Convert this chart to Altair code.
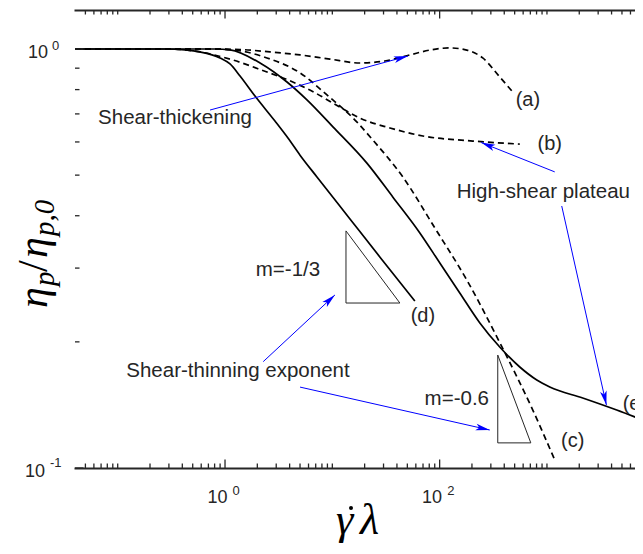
import math
import altair as alt
import pandas as pd

W, H = 568, 458
X_DOMAIN = [0.04, 7852]
Y_DOMAIN = [0.1, 1.239]
INK = "#262626"
BLUE = "#0000ff"

# ---------------- curves ----------------
a_x = [0.04, 0.2, 0.6, 1.38, 2.62, 5.0, 9.5, 18.1, 30.9, 52.8, 81, 124, 179, 252, 364, 481]
a_y = [1.0, 1.0, 1.0, 0.997, 0.984, 0.968, 0.946, 0.926, 0.936, 0.968, 0.994, 1.006, 0.994, 0.952, 0.857, 0.789]
b_x = [0.04, 0.308, 0.585, 1.187, 2.46, 3.47, 6.18, 13.1, 18.1, 34.4, 69.8, 204, 558]
b_y = [1.0, 1.0, 0.984, 0.941, 0.881, 0.853, 0.798, 0.715, 0.684, 0.648, 0.620, 0.603, 0.593]
c_x = [0.04, 0.725, 1.187, 2.46, 5.0, 8.91, 16.9, 23.9, 45.4, 90.2, 179, 364, 738, 1182]
c_y = [1.0, 1.0, 0.995, 0.952, 0.877, 0.777, 0.670, 0.606, 0.495, 0.374, 0.281, 0.199, 0.1375, 0.1045]
d_x = [0.04, 0.276, 0.424, 0.585, 0.898, 1.113, 1.38, 1.903, 2.92, 3.86, 5.0, 7.19, 14.6, 27.7, 58.8]
d_y = [1.0, 1.0, 0.995, 0.984, 0.952, 0.921, 0.862, 0.772, 0.673, 0.613, 0.558, 0.495, 0.393, 0.319, 0.2503]
e_x = [0.04, 0.807, 1.113, 2.12, 3.78, 5.80, 10.13, 21.0, 36.7, 65.4, 100.4, 154, 237, 363, 558,
       804, 1062, 2154, 4467, 7800, 10000]
e_y = [1.0, 1.0, 0.995, 0.926, 0.834, 0.756, 0.652, 0.534, 0.443, 0.364, 0.3086, 0.2617, 0.2219,
       0.1944, 0.1742, 0.1622, 0.1561, 0.1469, 0.1375, 0.1302, 0.127]

# slope triangles
tri1_x = [13.4, 13.4, 42.6, 13.4]
tri1_y = [0.368, 0.2476, 0.2476, 0.368]
tri2_x = [348, 348, 707, 348]
tri2_y = [0.186, 0.1148, 0.1148, 0.186]

# curve labels
lab_text = ["(a)", "(b)", "(c)", "(d)"]
lab_x = [664, 1062, 1738, 69.8]
lab_y = [0.731, 0.574, 0.1122, 0.2231]
e_lab_text = ["(e)"]
e_lab_x = [5079]
e_lab_y = [0.1375]

# annotations
note_text = ["Shear-thickening", "High-shear plateau", "Shear-thinning exponent", "m=-1/3", "m=-0.6"]
note_x = [0.342, 925, 1.32, 3.86, 144.5]
note_y = [0.662, 0.441, 0.165, 0.287, 0.1413]

# arrows: start -> tip
arr_x0 = [0.725, 1182, 1373, 2.27, 5.0]
arr_y0 = [0.715, 0.509, 0.422, 0.1794, 0.156]
arr_x1 = [50.6, 244, 3581, 10.57, 293]
arr_y1 = [0.962, 0.598, 0.1413, 0.2588, 0.1232]

# ticks and tick labels
x_major = [1, 100]
x_minor = [0.05, 0.06, 0.07, 0.08, 0.09,
           0.1, 0.2, 0.3, 0.4, 0.5, 0.6, 0.7, 0.8, 0.9,
           2, 3, 4, 5, 6, 7, 8, 9,
           10, 20, 30, 40, 50, 60, 70, 80, 90,
           200, 300, 400, 500, 600, 700, 800, 900,
           1000, 2000, 3000, 4000, 5000, 6000, 7000]
y_major = [0.1, 1]
y_minor = [0.2, 0.3, 0.4, 0.5, 0.6, 0.7, 0.8, 0.9]
xlab_vals = [1, 100]
xlab_exp = ["0", "2"]

# ---------------- helpers ----------------
LX0, LX1 = math.log10(X_DOMAIN[0]), math.log10(X_DOMAIN[1])
LY0, LY1 = math.log10(Y_DOMAIN[0]), math.log10(Y_DOMAIN[1])


def px(v):
    return W * (math.log10(v) - LX0) / (LX1 - LX0)


def py(v):
    return H * (LY1 - math.log10(v)) / (LY1 - LY0)


def X(field, axis=None):
    return alt.X(f"{field}:Q", scale=alt.Scale(type="log", domain=X_DOMAIN, nice=False), axis=axis)


def Y(field, axis=None):
    return alt.Y(f"{field}:Q", scale=alt.Scale(type="log", domain=Y_DOMAIN, nice=False), axis=axis)


def curve_df(name, xs, ys):
    return pd.DataFrame({"x": xs, "y": ys, "curve": name, "i": list(range(len(xs)))})


solid = pd.concat([curve_df("d", d_x, d_y), curve_df("e", e_x, e_y)])
dashed = pd.concat([curve_df("a", a_x, a_y), curve_df("b", b_x, b_y), curve_df("c", c_x, c_y)])
tris = pd.concat([curve_df("t1", tri1_x, tri1_y), curve_df("t2", tri2_x, tri2_y)])

bottom_axis = alt.Axis(orient="bottom", domain=True, domainColor=INK, domainWidth=2, domainCap="square",
                       ticks=False, labels=False, grid=False, title=None)
top_axis = alt.Axis(orient="top", domain=True, domainColor=INK, domainWidth=2, domainCap="square",
                    ticks=False, labels=False, grid=False, title=None)
left_axis = alt.Axis(orient="left", domain=True, domainColor=INK, domainWidth=2, domainCap="square",
                     ticks=False, labels=False, grid=False, title=None)

layers = []

# curves
layers.append(alt.Chart(solid).mark_line(color="black", strokeWidth=1.7, interpolate="monotone", clip=True)
              .encode(x=X("x", bottom_axis), y=Y("y", left_axis), detail="curve:N", order="i:Q"))
layers.append(alt.Chart(dashed).mark_line(color="black", strokeWidth=1.7, strokeDash=[6, 4],
                                          interpolate="monotone", clip=True)
              .encode(x=X("x"), y=Y("y"), detail="curve:N", order="i:Q"))
layers.append(alt.Chart(tris).mark_line(color=INK, strokeWidth=1)
              .encode(x=X("x"), y=Y("y"), detail="curve:N", order="i:Q"))

# ticks (inward)
xmin_df = pd.DataFrame({"v": x_minor})
xmaj_df = pd.DataFrame({"v": x_major})
ymin_df = pd.DataFrame({"v": y_minor})
ymaj_df = pd.DataFrame({"v": y_major})
TS, TL = 4.5, 8.5
tick = dict(color=INK, strokeWidth=1.3)
layers.append(alt.Chart(xmin_df).mark_rule(**tick).encode(x=X("v"), y=alt.value(H), y2=alt.value(H - TS)))
layers.append(alt.Chart(xmin_df).mark_rule(**tick).encode(x=X("v", top_axis), y=alt.value(0), y2=alt.value(TS)))
layers.append(alt.Chart(xmaj_df).mark_rule(**tick).encode(x=X("v"), y=alt.value(H), y2=alt.value(H - TL)))
layers.append(alt.Chart(xmaj_df).mark_rule(**tick).encode(x=X("v"), y=alt.value(0), y2=alt.value(TL)))
layers.append(alt.Chart(ymin_df).mark_rule(**tick).encode(y=Y("v"), x=alt.value(0), x2=alt.value(TS)))
layers.append(alt.Chart(ymaj_df).mark_rule(**tick).encode(y=Y("v"), x=alt.value(0), x2=alt.value(TL)))

# tick labels
lab_font = dict(font="Liberation Sans", color=INK)
xlab_df = pd.DataFrame({"v": xlab_vals, "e": xlab_exp, "b": ["10"] * len(xlab_vals)})
layers.append(alt.Chart(xlab_df).mark_text(fontSize=18, align="right", baseline="alphabetic", dx=2.5, **lab_font)
              .encode(x=X("v"), y=alt.value(H + 35), text="b:N"))
layers.append(alt.Chart(xlab_df).mark_text(fontSize=13, align="left", baseline="alphabetic", dx=7.5, **lab_font)
              .encode(x=X("v"), y=alt.value(H + 27), text="e:N"))
ylab0 = pd.DataFrame({"v": [1], "e": ["0"], "b": ["10"]})
ylab1 = pd.DataFrame({"v": [0.1], "e": ["-1"], "b": ["10"]})
layers.append(alt.Chart(ylab0).mark_text(fontSize=18, align="right", baseline="alphabetic", dy=9, **lab_font)
              .encode(y=Y("v"), x=alt.value(-27), text="b:N"))
layers.append(alt.Chart(ylab0).mark_text(fontSize=13, align="left", baseline="alphabetic", dy=1, **lab_font)
              .encode(y=Y("v"), x=alt.value(-23), text="e:N"))
layers.append(alt.Chart(ylab1).mark_text(fontSize=18, align="right", baseline="alphabetic", dy=9, **lab_font)
              .encode(y=Y("v"), x=alt.value(-30), text="b:N"))
layers.append(alt.Chart(ylab1).mark_text(fontSize=13, align="left", baseline="alphabetic", dy=-1, **lab_font)
              .encode(y=Y("v"), x=alt.value(-25), text="e:N"))


# axis titles (pieces, so that sub-/superscripts and the dot can be placed)
def title_piece(txt, x_, y_, size, angle=0, style="italic", align="left"):
    return (alt.Chart(pd.DataFrame({"t": [txt]}))
            .mark_text(font="Liberation Serif", fontStyle=style, fontSize=size, angle=angle,
                       align=align, baseline="alphabetic", color="black")
            .encode(text="t:N", x=alt.value(x_), y=alt.value(y_)))


layers += [
    title_piece("η", -28, 298, 42, 270),
    title_piece("p", -21, 276, 29, 270),
    title_piece("/", -28, 262, 42, 270, "normal"),
    title_piece("η", -28, 248, 42, 270),
    title_piece("p,0", -21, 226, 29, 270),
    # x title: gamma-dot lambda
    title_piece("γ", 261, H + 66, 44),
    title_piece("λ", 285, H + 66, 44),
]
# the dot over gamma
layers.append(alt.Chart(pd.DataFrame({"t": ["dot"]})).mark_point(shape="circle", filled=True, size=16,
                                                                   color="black", opacity=1)
              .encode(x=alt.value(276), y=alt.value(H + 40)))

# labels and annotations
lab_df = pd.DataFrame({"t": lab_text, "x": lab_x, "y": lab_y})
layers.append(alt.Chart(lab_df).mark_text(fontSize=20, align="center", baseline="alphabetic", **lab_font)
              .encode(x=X("x"), y=Y("y"), text="t:N"))
elab_df = pd.DataFrame({"t": e_lab_text, "x": e_lab_x, "y": e_lab_y})
layers.append(alt.Chart(elab_df).mark_text(fontSize=20, align="left", baseline="alphabetic", **lab_font)
              .encode(x=X("x"), y=Y("y"), text="t:N"))
note_df = pd.DataFrame({"t": note_text, "x": note_x, "y": note_y})
layers.append(alt.Chart(note_df).mark_text(fontSize=20.5, align="center", baseline="alphabetic", **lab_font)
              .encode(x=X("x"), y=Y("y"), text="t:N"))

# arrows
angles = []
for x0, y0, x1, y1 in zip(arr_x0, arr_y0, arr_x1, arr_y1):
    dx, dy = px(x1) - px(x0), py(y1) - py(y0)
    angles.append(math.degrees(math.atan2(dx, -dy)) % 360)
arr_df = pd.DataFrame({"x0": arr_x0, "y0": arr_y0, "x1": arr_x1, "y1": arr_y1, "ang": angles})
layers.append(alt.Chart(arr_df).mark_rule(color=BLUE, strokeWidth=1)
              .encode(x=X("x0"), y=Y("y0"), x2="x1:Q", y2="y1:Q"))
ARROW = "M0,0 L0.45,1.9 L0,1.45 L-0.45,1.9 Z"
layers.append(alt.Chart(arr_df).mark_point(shape=ARROW, filled=True, size=220, color=BLUE, opacity=1,
                                           strokeWidth=0)
              .encode(x=X("x1"), y=Y("y1"), angle=alt.Angle("ang:Q", scale=None)))

chart = (alt.layer(*layers)
         .properties(width=W, height=H,
                     padding={"left": 67, "top": 2, "right": -8, "bottom": 78},
                     autosize=alt.AutoSizeParams(type="none"))
         .resolve_axis(x="independent")
         .configure_view(stroke=None))

chart.save("out.html", embed_options={"renderer": "svg", "actions": False})
